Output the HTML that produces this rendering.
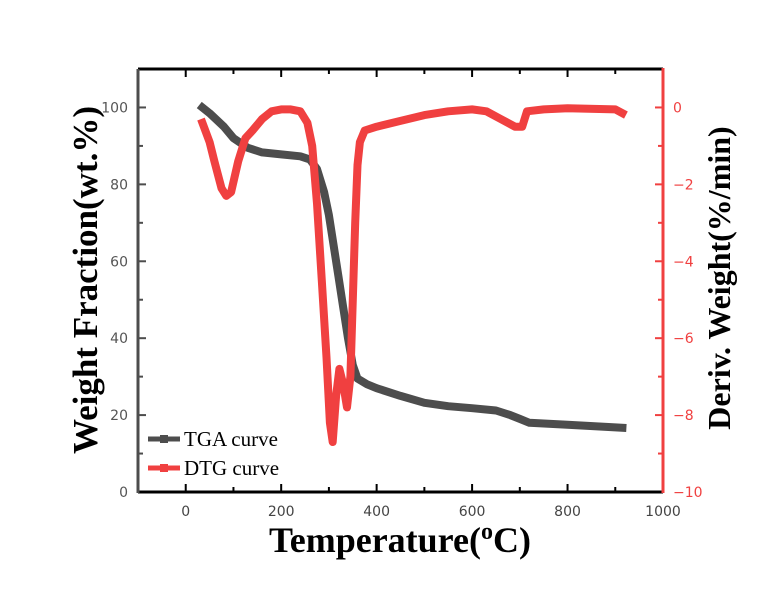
<!DOCTYPE html>
<html><head><meta charset="utf-8"><style>
html,body{margin:0;padding:0;background:#fff;}
svg{display:block;}
.tk{font-family:"DejaVu Sans","Liberation Sans",sans-serif;font-size:14px;}
.tt{font-family:"Liberation Serif",serif;font-weight:bold;}
</style></head><body>
<svg id="chart" width="772" height="591" xmlns="http://www.w3.org/2000/svg">
<g id="axes"></g>
<g id="series"></g>
<text class="tt" x="400" y="552" font-size="36" text-anchor="middle">Temperature(<tspan font-size="24" dy="-13">o</tspan><tspan dy="13">C)</tspan></text>
<text class="tt" transform="translate(97,280) rotate(-90)" font-size="35" text-anchor="middle">Weight Fraction(wt.%)</text>
<text class="tt" transform="translate(730,278) rotate(-90)" font-size="32" text-anchor="middle">Deriv. Weight(%/min)</text>
<g>
<line x1="148" y1="439" x2="180" y2="439" stroke="#4d4d4d" stroke-width="5"/>
<rect x="160" y="435" width="8" height="8" fill="#4d4d4d"/>
<text x="184" y="446" font-family="Liberation Serif,serif" font-size="21">TGA curve</text>
<line x1="148" y1="468" x2="180" y2="468" stroke="#f04040" stroke-width="5"/>
<rect x="160" y="464" width="8" height="8" fill="#f04040"/>
<text x="184" y="475" font-family="Liberation Serif,serif" font-size="21">DTG curve</text>
</g>
</svg>
<script>
const xTicks=[0,200,400,600,800,1000];
const leftTicks=[0,20,40,60,80,100];
const rightTicks=[0,-2,-4,-6,-8,-10];
const tgaT=[35,50,80,100,130,160,200,240,260,275,290,300,310,320,330,340,350,360,380,400,450,500,550,600,650,680,700,720,800,900,915];
const tgaW=[100,98.5,95,92,89.5,88.3,87.8,87.3,86.5,84,78,72,64,56,48,40,33,29.5,28,27,25,23.2,22.3,21.8,21.2,20,19,18,17.5,16.8,16.7];
const dtgT=[35,50,60,75,85,95,110,125,140,160,180,200,220,240,255,265,275,285,295,302,308,315,322,330,338,345,350,355,360,365,375,400,450,500,550,600,630,660,690,705,715,750,800,900,915];
const dtgD=[-0.4,-0.9,-1.4,-2.1,-2.3,-2.2,-1.4,-0.8,-0.6,-0.3,-0.1,-0.05,-0.05,-0.1,-0.4,-1.0,-2.5,-4.5,-6.5,-8.2,-8.7,-7.5,-6.8,-7.2,-7.8,-7.0,-5,-3,-1.5,-0.9,-0.6,-0.5,-0.35,-0.2,-0.1,-0.05,-0.1,-0.3,-0.5,-0.5,-0.1,-0.05,-0.02,-0.05,-0.15];
const L=138,R=663,T=69,B=492;
const X=v=>L+(v+100)/1100*(R-L);
const YL=v=>B-v/110*(B-T);
const YR=v=>B-(v+10)/11*(B-T);
const NS="http://www.w3.org/2000/svg";
function mk(p,tag,a){const e=document.createElementNS(NS,tag);for(const k in a)e.setAttribute(k,a[k]);p.appendChild(e);return e;}
const ax=document.getElementById('axes');
let e;
e=mk(ax,'line',{x1:L,y1:T,x2:R,y2:T,stroke:'#000','stroke-width':3});


e=mk(ax,'line',{x1:L,y1:B,x2:R,y2:B,stroke:'#000','stroke-width':3});


e=mk(ax,'line',{x1:L,y1:T,x2:L,y2:B+1,stroke:'#4d4d4d','stroke-width':3});


e=mk(ax,'line',{x1:R,y1:T-1,x2:R,y2:B+1,stroke:'#f04040','stroke-width':3});


for(let v=0;v<=900;v+=100){const x=X(v),len=v%200===0?8:5;
e=mk(ax,'line',{x1:x,y1:B,x2:x,y2:B-len,stroke:'#000','stroke-width':2});


e=mk(ax,'line',{x1:x,y1:T,x2:x,y2:T+len,stroke:'#000','stroke-width':2});

}
xTicks.forEach(v=>{e=mk(ax,'text',{x:X(v),y:B+24,'text-anchor':'middle',class:'tk',fill:'#444'});e.textContent=v;

});
for(let v=10;v<=100;v+=10){const y=YL(v),len=v%20===0?8:5;
e=mk(ax,'line',{x1:L,y1:y,x2:L+len,y2:y,stroke:'#4d4d4d','stroke-width':2});

}
leftTicks.forEach(v=>{e=mk(ax,'text',{x:L-10,y:YL(v)+5,'text-anchor':'end',class:'tk',fill:'#555'});e.textContent=v;

});
for(let v=-9;v<=0;v+=1){const y=YR(v),len=v%2===0?8:5;
e=mk(ax,'line',{x1:R,y1:y,x2:R-len,y2:y,stroke:'#f04040','stroke-width':2});

}
rightTicks.forEach(v=>{e=mk(ax,'text',{x:R+10,y:YR(v)+5,'text-anchor':'start',class:'tk',fill:'#f04040'});e.textContent=v===0?'0':'\u2212'+Math.abs(v);

});
const sg=document.getElementById('series');
function series(ts,vs,yf,col,name){
const pts=ts.map((t,i)=>X(t).toFixed(1)+','+yf(vs[i]).toFixed(1)).join(' ');
e=mk(sg,'polyline',{points:pts,fill:'none',stroke:col,'stroke-width':8,'stroke-linejoin':'round','stroke-linecap':'square'});

}
series(tgaT,tgaW,YL,'#4d4d4d','tga');
series(dtgT,dtgD,YR,'#f04040','dtg');
</script>
</body></html>
